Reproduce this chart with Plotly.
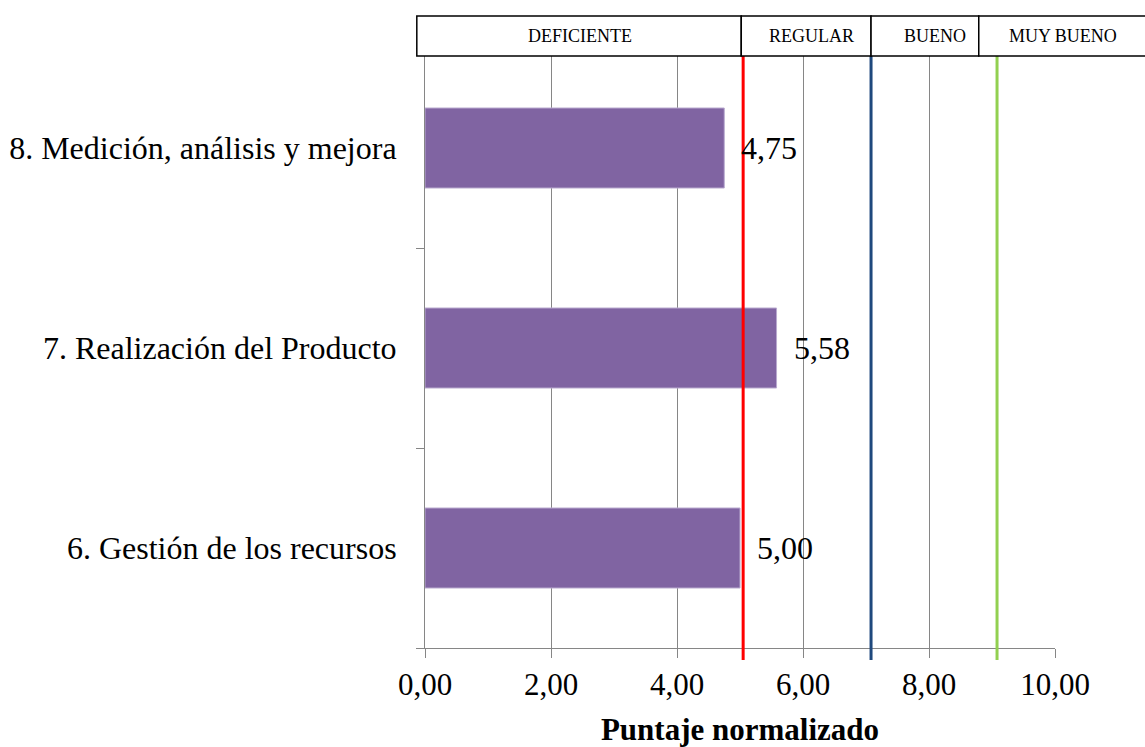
import plotly.graph_objects as go

# ---- data ----
categories = ["6. Gestión de los recursos", "7. Realización del Producto", "8. Medición, análisis y mejora"]
values = [5.00, 5.58, 4.75]
value_labels = ["5,00", "5,58", "4,75"]
x_ticks = [0, 2, 4, 6, 8, 10]
x_range = [0, 10]
threshold_values = [5.05, 7.08, 9.08]
threshold_colors = ["#FF0000", "#1F497D", "#92D050"]
band_labels = ["DEFICIENTE", "REGULAR", "BUENO", "MUY BUENO"]
band_edges = [-0.13, 5.02, 7.08, 8.79, 11.6]
band_label_x = [2.46, 6.13, 8.1, 10.13]
x_title = "Puntaje normalizado"

FONT = "Liberation Serif, Times New Roman, serif"


def to_paper(v):
    return (v - x_range[0]) / (x_range[1] - x_range[0])


fig = go.Figure()
fig.add_trace(go.Bar(
    y=categories, x=values, orientation="h",
    marker=dict(color="#8064A2", line=dict(color="#B9AACF", width=1)),
    width=0.4, hoverinfo="skip",
))

shapes = []
annotations = []
# threshold lines
for v, c in zip(threshold_values, threshold_colors):
    shapes.append(dict(type="line", xref="x", yref="paper", x0=v, x1=v, y0=-0.02, y1=1,
                       line=dict(color=c, width=3), layer="above"))
# header boxes
for i, lab in enumerate(band_labels):
    shapes.append(dict(type="rect", xref="paper", yref="paper",
                       x0=to_paper(band_edges[i]), x1=to_paper(band_edges[i + 1]),
                       y0=0.9867, y1=1.0533,
                       line=dict(color="black", width=1.5), fillcolor="white", layer="above"))
    annotations.append(dict(x=to_paper(band_label_x[i]), y=1.02, xref="paper", yref="paper", text=lab,
                            showarrow=False, font=dict(family=FONT, size=18, color="black"),
                            xanchor="center", yanchor="middle"))
# value labels
for cat, v, t in zip(categories, values, value_labels):
    annotations.append(dict(x=v, y=cat, xref="x", yref="y", text=t, showarrow=False,
                            xanchor="left", yanchor="middle", xshift=15,
                            font=dict(family=FONT, size=32, color="black")))

fig.update_layout(
    width=1145, height=747,
    margin=dict(l=425, r=90, t=48, b=99),
    paper_bgcolor="white", plot_bgcolor="white",
    separators=",.",
    showlegend=False,
    shapes=shapes, annotations=annotations,
    font=dict(family=FONT, color="black"),
)
fig.update_xaxes(
    range=x_range, tickvals=x_ticks, tickformat=".2f",
    showgrid=True, gridcolor="#868686", gridwidth=1,
    showline=True, linecolor="#868686", linewidth=1,
    ticks="outside", ticklen=9, tickcolor="#868686",
    tickfont=dict(family=FONT, size=31, color="black"),
    zeroline=False, fixedrange=True, automargin=False,
    title=dict(text="<b>" + x_title + "</b>", font=dict(family=FONT, size=31, color="black"), standoff=17),
)
fig.update_yaxes(
    showline=True, linecolor="#868686", linewidth=1,
    ticks="outside", ticklen=8, tickcolor="#868686", tickson="boundaries",
    ticklabelstandoff=21,
    tickfont=dict(family=FONT, size=32, color="black"),
    showgrid=False, zeroline=False, fixedrange=True, automargin=False,
)

fig.write_html("out.html", config=dict(displayModeBar=False))
